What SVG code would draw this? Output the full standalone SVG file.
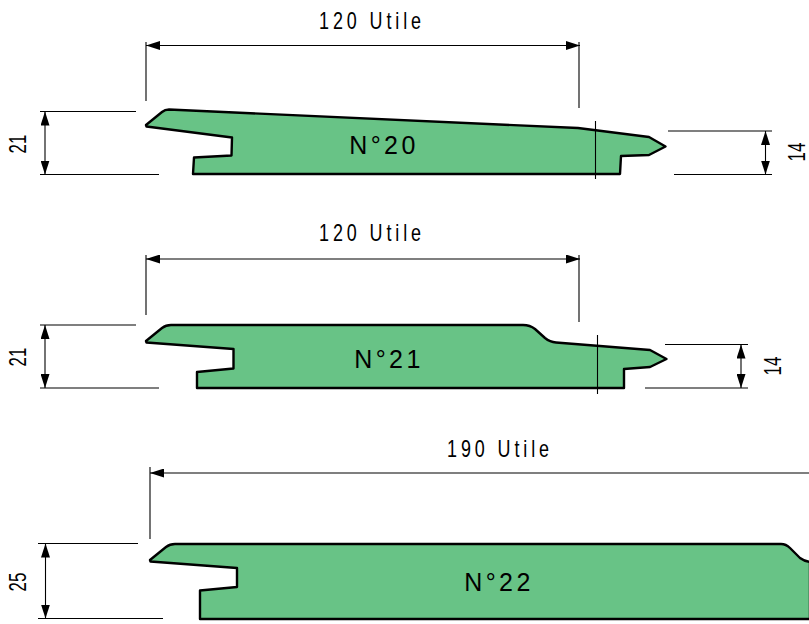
<svg xmlns="http://www.w3.org/2000/svg" width="809" height="624" viewBox="0 0 809 624">
<style>
.p{fill:#68c386;stroke:#000;stroke-width:2.4;stroke-linejoin:round}
.d{fill:none;stroke:#000;stroke-width:1.1}
.t{font-family:"Liberation Sans",Arial,sans-serif;fill:#000;text-anchor:middle}
.u{font-size:23px;letter-spacing:5px}
.n{font-size:25px;letter-spacing:3.4px}
.s{font-size:23.500px}
</style>
<defs>
<marker id="a" viewBox="0 0 14 9" refX="14" refY="4.500" markerWidth="14" markerHeight="9" markerUnits="userSpaceOnUse" orient="auto-start-reverse"><path d="M0 0L14 4.500L0 9Z" fill="#000"/></marker>
</defs>
<g id="n20">
<path class="p" d="M146 125L162 112Q165 109.500 169 109.500L578 128L649 137L665.500 146.500L649 155L621 156L620 174H193L194 157.500L231.500 155.500L232 137.500L146.500 126.500Z"/>
<text class="t n" x="384" y="153.500">N°20</text>
</g>
<g id="n21">
<path class="p" d="M146 341L162 328Q166 325 171 325H523Q530 325 535 329L545 338Q550 342 556 342.500L650 350L666.500 359L650 367L624 369V388H197V372L233.500 368.500V349L146.500 342.500Z"/>
<text class="t n" x="389" y="367.500">N°21</text>
</g>
<g id="n22">
<path class="p" d="M150 560L166 547Q170 544 175 544H781Q786 544 790 548L800 558Q804 561 810 562V619H200V590.500L237 587V568L150.500 561.500Z"/>
<text class="t n" x="499" y="590.500">N°22</text>
</g>
<g id="connectors">
<path class="d" d="M146 42V101M579 42V108"/>
<path class="d" d="M146 45.500H580" marker-start="url(#a)" marker-end="url(#a)"/>
<path class="d" d="M40 111.500H136M40 174.500H159M668 131H772M674 174.500H772M595.500 121V179"/>
<path class="d" d="M45 111.500V174.500" marker-start="url(#a)" marker-end="url(#a)"/>
<path class="d" d="M765.500 131V174.500" marker-start="url(#a)" marker-end="url(#a)"/>
<path class="d" d="M146 255V315M579 255V322"/>
<path class="d" d="M146 259H580" marker-start="url(#a)" marker-end="url(#a)"/>
<path class="d" d="M40 325H136M40 388H159M665 344.500H748M645 388H748M597.500 335V394"/>
<path class="d" d="M45 325V388" marker-start="url(#a)" marker-end="url(#a)"/>
<path class="d" d="M741 344.500V388" marker-start="url(#a)" marker-end="url(#a)"/>
<path class="d" d="M150 467V539"/>
<path class="d" d="M150 473H809" marker-start="url(#a)"/>
<path class="d" d="M38 543.500H138M38 618.500H163"/>
<path class="d" d="M45.500 543.500V618.500" marker-start="url(#a)" marker-end="url(#a)"/>
</g>
<g id="labels">
<text class="t u" transform="translate(372 29) scale(.78 1)">120 Utile</text>
<text class="t u" transform="translate(372 241) scale(.78 1)">120 Utile</text>
<text class="t u" transform="translate(500 457) scale(.78 1)">190 Utile</text>
<text class="t s" transform="translate(26 144) rotate(-90) scale(.72 1)">21</text>
<text class="t s" transform="translate(805 152) rotate(-90) scale(.72 1)">14</text>
<text class="t s" transform="translate(26 357) rotate(-90) scale(.72 1)">21</text>
<text class="t s" transform="translate(781 366) rotate(-90) scale(.72 1)">14</text>
<text class="t s" transform="translate(26 582) rotate(-90) scale(.72 1)">25</text>
</g>
</svg>
